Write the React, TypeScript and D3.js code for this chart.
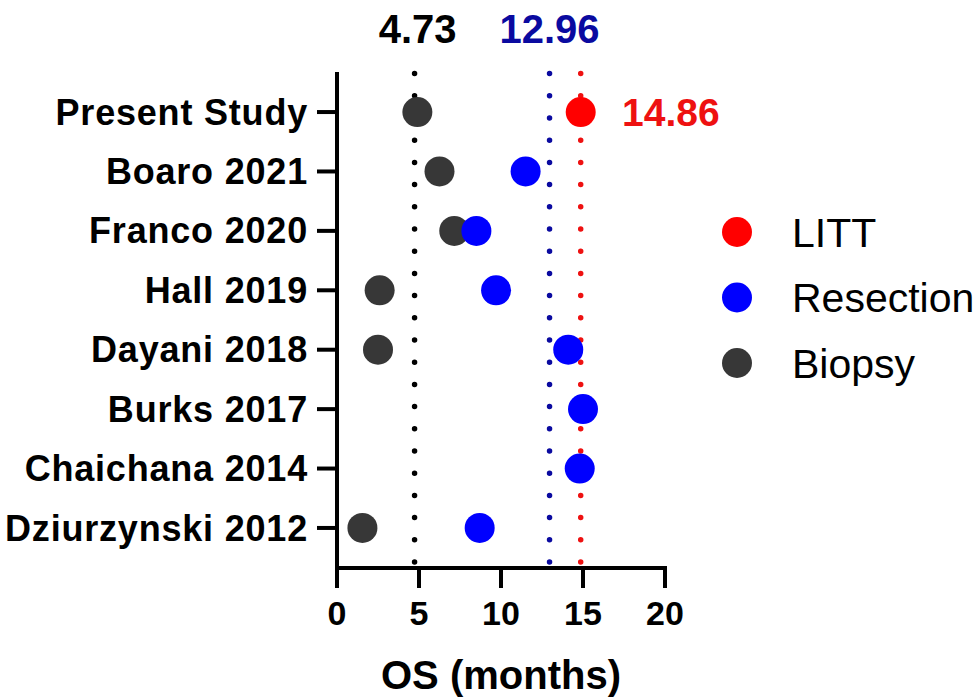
import React from "react";
import * as d3 from "d3";

// study labels, top to bottom
const studies = [
  "Present Study",
  "Boaro 2021",
  "Franco 2020",
  "Hall 2019",
  "Dayani 2018",
  "Burks 2017",
  "Chaichana 2014",
  "Dziurzynski 2012",
];

// median OS (months); null = not reported
const littOS = [14.86, null, null, null, null, null, null, null];
const resectionOS = [null, 11.5, 8.5, 9.7, 14.1, 15.0, 14.8, 8.7];
const biopsyOS = [4.9, 6.25, 7.15, 2.6, 2.5, null, null, 1.55];

// pooled reference lines
const refLines = [
  { value: 4.73, color: "#000000" },
  { value: 12.96, color: "#0a0aa0" },
  { value: 14.86, color: "#ee1111" },
];

const xTicks = [0, 5, 10, 15, 20];

const legendItems = [
  { name: "LITT", color: "#ff0000" },
  { name: "Resection", color: "#0000ff" },
  { name: "Biopsy", color: "#373737" },
];

export default function App() {
  const width = 978;
  const height = 697;
  const left = 337,
    right = 665,
    top = 72,
    bottom = 568;
  const font = "'Liberation Sans', Arial, Helvetica, sans-serif";

  const x = d3.scaleLinear().domain([0, 20]).range([left, right]);
  const y = d3.scalePoint<string>().domain(studies).range([top, bottom]).padding(0.674);

  const series = [
    { data: biopsyOS, color: "#373737" },
    { data: resectionOS, color: "#0000ff" },
    { data: littOS, color: "#ff0000" },
  ];

  const tickLen = 20;

  return (
    <svg
      width={width}
      height={height}
      style={{ position: "absolute", left: 0, top: 0, background: "#fff" }}
      fontFamily={font}
    >
      {/* dotted reference lines */}
      {refLines.map((r) => (
        <line
          key={r.value}
          x1={x(r.value)}
          x2={x(r.value)}
          y1={bottom - 6}
          y2={top}
          stroke={r.color}
          strokeWidth={5.5}
          strokeLinecap="round"
          strokeDasharray="0 22.2"
        />
      ))}

      {/* reference values */}
      <text x={x(4.73) + 3} y={43} textAnchor="middle" fontSize={40} fontWeight="bold" fill="#000">
        4.73
      </text>
      <text x={x(12.96)} y={43} textAnchor="middle" fontSize={40} fontWeight="bold" fill="#0a0aa0">
        12.96
      </text>
      <text x={622} y={(y("Present Study") ?? 0) + 14} fontSize={39} fontWeight="bold" fill="#ee1111">
        14.86
      </text>

      {/* y axis */}
      <line x1={left} x2={left} y1={top} y2={bottom + 2} stroke="#000" strokeWidth={4} />
      {studies.map((s) => (
        <g key={s} transform={`translate(0,${y(s)})`}>
          <line x1={left - tickLen} x2={left} stroke="#000" strokeWidth={4} />
          <text
            x={left - tickLen - 9}
            dy="0.35em"
            textAnchor="end"
            fontSize={36}
            fontWeight="bold"
            letterSpacing={0.8}
            fill="#000"
          >
            {s}
          </text>
        </g>
      ))}

      {/* x axis */}
      <line x1={left - 2} x2={right + 2} y1={bottom} y2={bottom} stroke="#000" strokeWidth={4} />
      {xTicks.map((t) => (
        <g key={t} transform={`translate(${x(t)},0)`}>
          <line y1={bottom} y2={bottom + tickLen} stroke="#000" strokeWidth={4} />
          <text y={625} textAnchor="middle" fontSize={34} fontWeight="bold" fill="#000">
            {t}
          </text>
        </g>
      ))}
      <text x={(left + right) / 2} y={689} textAnchor="middle" fontSize={40} fontWeight="bold" fill="#000">
        OS (months)
      </text>

      {/* points */}
      {series.map((se, si) =>
        se.data.map((v, i) =>
          v == null ? null : (
            <circle key={`${si}-${i}`} cx={x(v)} cy={y(studies[i])} r={15} fill={se.color} />
          )
        )
      )}

      {/* legend */}
      {legendItems.map((l, i) => (
        <g key={l.name} transform={`translate(737,${232 + i * 65.5})`}>
          <circle r={15} fill={l.color} />
          <text x={55} dy="0.36em" fontSize={41} fill="#000">
            {l.name}
          </text>
        </g>
      ))}
    </svg>
  );
}
